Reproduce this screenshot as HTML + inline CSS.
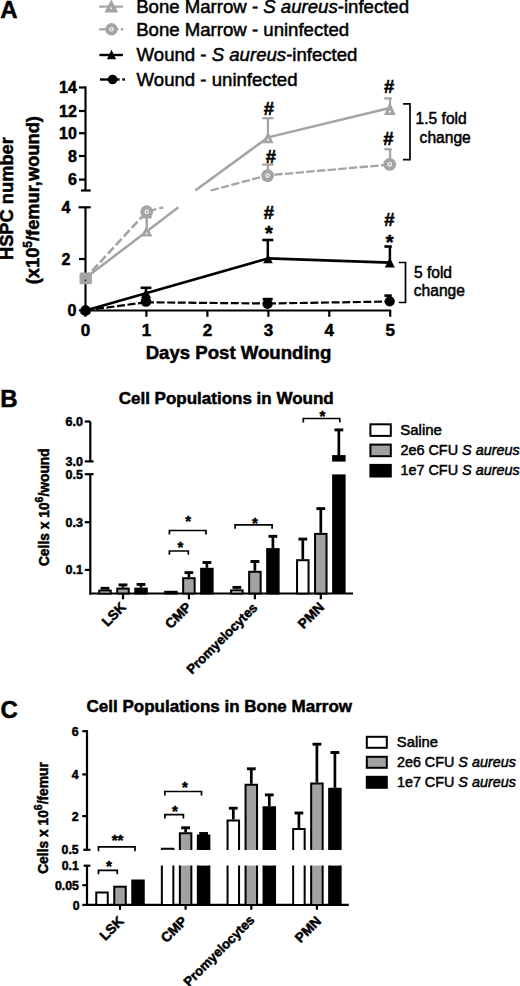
<!DOCTYPE html>
<html><head><meta charset="utf-8"><style>
html,body{margin:0;padding:0;background:#fff;}
body{width:520px;height:986px;overflow:hidden;}
svg{display:block;font-family:"Liberation Sans",sans-serif;}
</style></head><body>
<svg width="520" height="986" viewBox="0 0 520 986">
<rect width="520" height="986" fill="#fff"/>
<text x="0.3" y="18.2" font-size="24" font-weight="bold" stroke="#000" stroke-width="0.5" text-anchor="start" >A</text>
<line x1="99.2" y1="6.6" x2="123" y2="6.6" stroke="#a4a4a4" stroke-width="2.2" />
<polygon points="111.3,0.42 117.50,12.02 105.10,12.02" fill="#a4a4a4" stroke="#a4a4a4" stroke-width="1"/>
<circle cx="111.3" cy="8.19" r="0.9" fill="#fff"/>
<text x="136.2" y="13.1" font-size="18.6" stroke="#000" stroke-width="0.5" text-anchor="start" >Bone Marrow - <tspan font-style="italic">S aureus</tspan>-infected</text>
<line x1="99.2" y1="29.3" x2="118.5" y2="29.3" stroke="#a4a4a4" stroke-width="2.2" />
<line x1="120.8" y1="29.3" x2="123.2" y2="29.3" stroke="#a4a4a4" stroke-width="2.4" />
<circle cx="111.5" cy="29.3" r="6.2" fill="#a4a4a4"/>
<circle cx="111.5" cy="29.3" r="2.3" fill="#f4f4f4"/>
<circle cx="111.5" cy="29.3" r="1.1" fill="#a4a4a4"/>
<text x="136.2" y="35.6" font-size="18.6" stroke="#000" stroke-width="0.5" text-anchor="start" >Bone Marrow - uninfected</text>
<line x1="99.4" y1="55.0" x2="122.9" y2="55.0" stroke="#000" stroke-width="2.4" />
<polygon points="111.5,49.8 116.10,59.2 106.90,59.2" fill="#000"/>
<text x="136.6" y="61.2" font-size="18.6" stroke="#000" stroke-width="0.5" text-anchor="start" >Wound - <tspan font-style="italic">S aureus</tspan>-infected</text>
<line x1="100" y1="79.5" x2="119.6" y2="79.5" stroke="#000" stroke-width="2.4" />
<line x1="122.3" y1="79.5" x2="124.9" y2="79.5" stroke="#000" stroke-width="2.4" />
<circle cx="112.6" cy="79.5" r="4.8" fill="#000"/>
<text x="136.6" y="85.6" font-size="18.6" stroke="#000" stroke-width="0.5" text-anchor="start" >Wound - uninfected</text>
<line x1="85.5" y1="86.4" x2="85.5" y2="190.5" stroke="#000" stroke-width="2.2" />
<line x1="79" y1="87.5" x2="85.5" y2="87.5" stroke="#000" stroke-width="2.2" />
<line x1="79" y1="111.0" x2="85.5" y2="111.0" stroke="#000" stroke-width="2.2" />
<line x1="79" y1="133.2" x2="85.5" y2="133.2" stroke="#000" stroke-width="2.2" />
<line x1="79" y1="156.0" x2="85.5" y2="156.0" stroke="#000" stroke-width="2.2" />
<line x1="79" y1="179.6" x2="85.5" y2="179.6" stroke="#000" stroke-width="2.2" />
<line x1="81" y1="190.5" x2="90.7" y2="190.5" stroke="#000" stroke-width="2.2" />
<line x1="85.5" y1="207.3" x2="85.5" y2="311.6" stroke="#000" stroke-width="2.2" />
<line x1="78.5" y1="207.3" x2="90.7" y2="207.3" stroke="#000" stroke-width="2.2" />
<line x1="79" y1="259.0" x2="85.5" y2="259.0" stroke="#000" stroke-width="2.2" />
<line x1="79" y1="310.4" x2="85.5" y2="310.4" stroke="#000" stroke-width="2.2" />
<line x1="84.4" y1="310.5" x2="391.2" y2="310.5" stroke="#000" stroke-width="2.2" />
<line x1="85.4" y1="310.5" x2="85.4" y2="316.8" stroke="#000" stroke-width="2.2" />
<text x="85.4" y="335.7" font-size="17" font-weight="bold" stroke="#000" stroke-width="0.5" text-anchor="middle" >0</text>
<line x1="146.4" y1="310.5" x2="146.4" y2="316.8" stroke="#000" stroke-width="2.2" />
<text x="146.4" y="335.7" font-size="17" font-weight="bold" stroke="#000" stroke-width="0.5" text-anchor="middle" >1</text>
<line x1="207.4" y1="310.5" x2="207.4" y2="316.8" stroke="#000" stroke-width="2.2" />
<text x="207.4" y="335.7" font-size="17" font-weight="bold" stroke="#000" stroke-width="0.5" text-anchor="middle" >2</text>
<line x1="268.4" y1="310.5" x2="268.4" y2="316.8" stroke="#000" stroke-width="2.2" />
<text x="268.4" y="335.7" font-size="17" font-weight="bold" stroke="#000" stroke-width="0.5" text-anchor="middle" >3</text>
<line x1="329.3" y1="310.5" x2="329.3" y2="316.8" stroke="#000" stroke-width="2.2" />
<text x="329.3" y="335.7" font-size="17" font-weight="bold" stroke="#000" stroke-width="0.5" text-anchor="middle" >4</text>
<line x1="390.2" y1="310.5" x2="390.2" y2="316.8" stroke="#000" stroke-width="2.2" />
<text x="390.2" y="335.7" font-size="17" font-weight="bold" stroke="#000" stroke-width="0.5" text-anchor="middle" >5</text>
<text x="76.8" y="93.3" font-size="16" font-weight="bold" stroke="#000" stroke-width="0.5" text-anchor="end" >14</text>
<text x="76.8" y="116.8" font-size="16" font-weight="bold" stroke="#000" stroke-width="0.5" text-anchor="end" >12</text>
<text x="76.8" y="139.0" font-size="16" font-weight="bold" stroke="#000" stroke-width="0.5" text-anchor="end" >10</text>
<text x="76.8" y="161.8" font-size="16" font-weight="bold" stroke="#000" stroke-width="0.5" text-anchor="end" >8</text>
<text x="76.8" y="185.4" font-size="16" font-weight="bold" stroke="#000" stroke-width="0.5" text-anchor="end" >6</text>
<text x="70.5" y="213.4" font-size="16" font-weight="bold" stroke="#000" stroke-width="0.5" text-anchor="end" >4</text>
<text x="70.5" y="265.0" font-size="16" font-weight="bold" stroke="#000" stroke-width="0.5" text-anchor="end" >2</text>
<text x="76.3" y="316.0" font-size="16" font-weight="bold" stroke="#000" stroke-width="0.5" text-anchor="end" >0</text>
<text x="238.5" y="359.3" font-size="18.6" font-weight="bold" stroke="#000" stroke-width="0.5" text-anchor="middle" >Days Post Wounding</text>
<g transform="translate(13.2,198.6) rotate(-90)">
<text x="0" y="0" font-size="18.3" font-weight="bold" stroke="#000" stroke-width="0.5" text-anchor="middle" >HSPC number</text>
</g>
<g transform="translate(39.3,200.2) rotate(-90)">
<text x="0" y="0" font-size="18.3" font-weight="bold" stroke="#000" stroke-width="0.5" text-anchor="middle" >(x10<tspan font-size="12" dy="-7">5</tspan><tspan dy="7">/femur,wound)</tspan></text>
</g>
<line x1="85.5" y1="278" x2="146.7" y2="231.5" stroke="#a4a4a4" stroke-width="2.5" />
<line x1="146.7" y1="231.5" x2="178.4" y2="207.3" stroke="#a4a4a4" stroke-width="2.5" />
<line x1="195.3" y1="190.5" x2="268.0" y2="137.4" stroke="#a4a4a4" stroke-width="2.5" />
<line x1="268.0" y1="137.4" x2="389.7" y2="108.0" stroke="#a4a4a4" stroke-width="2.5" />
<line x1="85.5" y1="278" x2="146.7" y2="211.7" stroke="#a4a4a4" stroke-width="2.6" stroke-dasharray="8.5,3.2" stroke-dashoffset="2"/>
<line x1="146.7" y1="211.7" x2="163.4" y2="207.3" stroke="#a4a4a4" stroke-width="2.4" stroke-dasharray="9,3" stroke-dashoffset="-1"/>
<line x1="210.6" y1="190.5" x2="267.6" y2="175.3" stroke="#a4a4a4" stroke-width="2.3" stroke-dasharray="8.4,2.3"/>
<line x1="267.6" y1="175.3" x2="389.7" y2="164.6" stroke="#a4a4a4" stroke-width="2.3" stroke-dasharray="8.4,2.3" stroke-dashoffset="4"/>
<line x1="146.7" y1="231" x2="146.7" y2="217.2" stroke="#a4a4a4" stroke-width="2.4" />
<line x1="141.7" y1="217.2" x2="151.7" y2="217.2" stroke="#a4a4a4" stroke-width="2.4" />
<line x1="267.9" y1="136" x2="267.9" y2="118.2" stroke="#a4a4a4" stroke-width="2.2" />
<line x1="262.29999999999995" y1="118.2" x2="273.5" y2="118.2" stroke="#a4a4a4" stroke-width="2.2" />
<line x1="390.0" y1="106" x2="390.0" y2="98.4" stroke="#a4a4a4" stroke-width="2.2" />
<line x1="384.2" y1="98.4" x2="391.8" y2="98.4" stroke="#a4a4a4" stroke-width="2.2" />
<line x1="267.9" y1="175" x2="267.9" y2="164.6" stroke="#a4a4a4" stroke-width="2.2" />
<line x1="262.29999999999995" y1="164.6" x2="273.5" y2="164.6" stroke="#a4a4a4" stroke-width="2.2" />
<line x1="390.1" y1="165" x2="390.1" y2="149.3" stroke="#a4a4a4" stroke-width="2.2" />
<line x1="384.3" y1="149.3" x2="391.8" y2="149.3" stroke="#a4a4a4" stroke-width="2.2" />
<rect x="79.5" y="272.5" width="12.4" height="11.8" rx="1.5" fill="#a4a4a4"/>
<circle cx="85.4" cy="280.3" r="0.9" fill="#222"/>
<polygon points="146.6,225.6 152.40,236.5 140.80,236.5" fill="#a4a4a4"/>
<circle cx="146.6" cy="233.56" r="0.95" fill="#fff"/>
<polygon points="268.0,131.3 273.60,143.2 262.40,143.2" fill="#a4a4a4"/>
<circle cx="268.0" cy="139.99" r="0.95" fill="#fff"/>
<polygon points="389.8,102.0 395.70,115.0 383.90,115.0" fill="#a4a4a4"/>
<circle cx="389.8" cy="111.49" r="0.95" fill="#fff"/>
<circle cx="146.7" cy="211.7" r="6.4" fill="#a4a4a4"/>
<circle cx="146.7" cy="211.7" r="2.3" fill="#f4f4f4"/>
<circle cx="146.7" cy="211.7" r="1.1" fill="#a4a4a4"/>
<circle cx="267.6" cy="175.6" r="6.4" fill="#a4a4a4"/>
<circle cx="267.6" cy="175.6" r="2.3" fill="#f4f4f4"/>
<circle cx="267.6" cy="175.6" r="1.1" fill="#a4a4a4"/>
<circle cx="389.7" cy="164.4" r="6.4" fill="#a4a4a4"/>
<circle cx="389.7" cy="164.4" r="2.3" fill="#f4f4f4"/>
<circle cx="389.7" cy="164.4" r="1.1" fill="#a4a4a4"/>
<line x1="85.5" y1="310.4" x2="268.0" y2="258.4" stroke="#000" stroke-width="2.6" />
<line x1="268.0" y1="258.4" x2="389.7" y2="262.6" stroke="#000" stroke-width="2.6" />
<line x1="85.5" y1="310.4" x2="146" y2="302.3" stroke="#000" stroke-width="2.2" stroke-dasharray="8,2.6"/>
<line x1="146" y1="302.3" x2="268" y2="303.5" stroke="#000" stroke-width="2.2" stroke-dasharray="8,2.6"/>
<line x1="268" y1="303.5" x2="389.7" y2="301.5" stroke="#000" stroke-width="2.2" stroke-dasharray="8,2.6"/>
<line x1="146" y1="295" x2="146" y2="287.8" stroke="#000" stroke-width="2.4" />
<line x1="140.65" y1="287.8" x2="151.35" y2="287.8" stroke="#000" stroke-width="2.6" />
<line x1="267.8" y1="258" x2="267.8" y2="240.0" stroke="#000" stroke-width="2.5" />
<line x1="262.3" y1="240.0" x2="273.3" y2="240.0" stroke="#000" stroke-width="2.6" />
<line x1="389.9" y1="262" x2="389.9" y2="246.5" stroke="#000" stroke-width="2.5" />
<line x1="384.4" y1="246.5" x2="391.8" y2="246.5" stroke="#000" stroke-width="2.6" />
<line x1="267.7" y1="304" x2="267.7" y2="299.1" stroke="#000" stroke-width="2.4" />
<line x1="262.7" y1="299.1" x2="272.7" y2="299.1" stroke="#000" stroke-width="2.6" />
<line x1="389.9" y1="301" x2="389.9" y2="295.6" stroke="#000" stroke-width="2.4" />
<line x1="384.4" y1="295.6" x2="391.8" y2="295.6" stroke="#000" stroke-width="2.6" />
<circle cx="85.5" cy="310.4" r="5.3" fill="#000"/>
<polygon points="85.5,303.5 90.90,313.8 80.10,313.8" fill="#000"/>
<polygon points="146,288.5 151.00,298 141.00,298" fill="#000"/>
<circle cx="146" cy="301.5" r="5.3" fill="#000"/>
<polygon points="268.0,254.0 272.80,263.2 263.20,263.2" fill="#000"/>
<polygon points="389.8,257.5 394.80,267.6 384.80,267.6" fill="#000"/>
<circle cx="267.6" cy="303.9" r="5.1" fill="#000"/>
<circle cx="389.7" cy="301.3" r="5.1" fill="#000"/>
<text x="269.0" y="114.8" font-size="18.5" font-weight="bold" stroke="#000" stroke-width="0.5" text-anchor="middle" >#</text>
<text x="389.2" y="92.6" font-size="18.5" font-weight="bold" stroke="#000" stroke-width="0.5" text-anchor="middle" >#</text>
<text x="271.0" y="162.7" font-size="18.5" font-weight="bold" stroke="#000" stroke-width="0.5" text-anchor="middle" >#</text>
<text x="388.3" y="145.2" font-size="18.5" font-weight="bold" stroke="#000" stroke-width="0.5" text-anchor="middle" >#</text>
<text x="268.9" y="218.6" font-size="18.5" font-weight="bold" stroke="#000" stroke-width="0.5" text-anchor="middle" >#</text>
<text x="389.4" y="226.3" font-size="18.5" font-weight="bold" stroke="#000" stroke-width="0.5" text-anchor="middle" >#</text>
<text x="269.0" y="240.10000000000002" font-size="20" font-weight="bold" stroke="#000" stroke-width="0.5" text-anchor="middle" >*</text>
<text x="389.6" y="248.8" font-size="20" font-weight="bold" stroke="#000" stroke-width="0.5" text-anchor="middle" >*</text>
<polyline points="403,103.9 410,103.9 410,159.6 403,159.6" fill="none" stroke="#000" stroke-width="1.7"/>
<polyline points="398.8,262.5 405.5,262.5 405.5,302.5 398.8,302.5" fill="none" stroke="#000" stroke-width="1.7"/>
<text x="415.6" y="124.4" font-size="15.6" stroke="#000" stroke-width="0.5" text-anchor="start" >1.5 fold</text>
<text x="419.6" y="142.6" font-size="15.6" stroke="#000" stroke-width="0.5" text-anchor="start" >change</text>
<text x="413.9" y="278.4" font-size="15.6" stroke="#000" stroke-width="0.5" text-anchor="start" >5 fold</text>
<text x="413.8" y="296.0" font-size="15.6" stroke="#000" stroke-width="0.5" text-anchor="start" >change</text>
<text x="0.3" y="407.2" font-size="24" font-weight="bold" stroke="#000" stroke-width="0.5" text-anchor="start" >B</text>
<text x="118.7" y="403.7" font-size="17" font-weight="bold" stroke="#000" stroke-width="0.5" text-anchor="start" >Cell Populations in Wound</text>
<line x1="90.3" y1="421.5" x2="90.3" y2="461.4" stroke="#000" stroke-width="2.2" />
<line x1="84.8" y1="421.5" x2="90.3" y2="421.5" stroke="#000" stroke-width="2.2" />
<line x1="84.8" y1="461.4" x2="93.6" y2="461.4" stroke="#000" stroke-width="2.2" />
<line x1="90.3" y1="474.2" x2="90.3" y2="594.6" stroke="#000" stroke-width="2.2" />
<line x1="84.8" y1="474.2" x2="93.6" y2="474.2" stroke="#000" stroke-width="2.2" />
<line x1="84.8" y1="522.2" x2="90.3" y2="522.2" stroke="#000" stroke-width="2.2" />
<line x1="84.8" y1="569.9" x2="90.3" y2="569.9" stroke="#000" stroke-width="2.2" />
<line x1="89.2" y1="593.5" x2="353" y2="593.5" stroke="#000" stroke-width="2.2" />
<text x="82.9" y="425.9" font-size="12.5" font-weight="bold" stroke="#000" stroke-width="0.5" text-anchor="end" >6.0</text>
<text x="82.9" y="465.79999999999995" font-size="12.5" font-weight="bold" stroke="#000" stroke-width="0.5" text-anchor="end" >3.0</text>
<text x="82.9" y="478.59999999999997" font-size="12.5" font-weight="bold" stroke="#000" stroke-width="0.5" text-anchor="end" >0.5</text>
<text x="82.9" y="526.6" font-size="12.5" font-weight="bold" stroke="#000" stroke-width="0.5" text-anchor="end" >0.3</text>
<text x="82.9" y="574.3" font-size="12.5" font-weight="bold" stroke="#000" stroke-width="0.5" text-anchor="end" >0.1</text>
<g transform="translate(48.6,507.2) rotate(-90)">
<text x="0" y="0" font-size="13.8" font-weight="bold" stroke="#000" stroke-width="0.5" text-anchor="middle" >Cells x 10<tspan font-size="10.5" dy="-5.5">6</tspan><tspan dy="5.5">/wound</tspan></text>
</g>
<line x1="123.0" y1="593.5" x2="123.0" y2="599.3" stroke="#000" stroke-width="2.2" />
<line x1="188.9" y1="593.5" x2="188.9" y2="599.3" stroke="#000" stroke-width="2.2" />
<line x1="254.9" y1="593.5" x2="254.9" y2="599.3" stroke="#000" stroke-width="2.2" />
<line x1="320.8" y1="593.5" x2="320.8" y2="599.3" stroke="#000" stroke-width="2.2" />
<line x1="105.0" y1="589.6" x2="105.0" y2="589.3" stroke="#000" stroke-width="2.7" />
<line x1="100.6" y1="588.3" x2="109.4" y2="588.3" stroke="#000" stroke-width="2.9" />
<rect x="99.25" y="590.60" width="11.50" height="2.90" fill="#fff" stroke="#000" stroke-width="2.0"/>
<line x1="123.0" y1="587.6" x2="123.0" y2="585.9" stroke="#000" stroke-width="2.7" />
<line x1="118.6" y1="584.9" x2="127.4" y2="584.9" stroke="#000" stroke-width="2.9" />
<rect x="117.25" y="588.60" width="11.50" height="4.90" fill="#a2a2a2" stroke="#000" stroke-width="2.0"/>
<line x1="141.0" y1="587.6" x2="141.0" y2="585.4" stroke="#000" stroke-width="2.7" />
<line x1="136.6" y1="584.4" x2="145.4" y2="584.4" stroke="#000" stroke-width="2.9" />
<rect x="135.25" y="588.60" width="11.50" height="4.90" fill="#000" stroke="#000" stroke-width="2.0"/>
<rect x="165.15" y="591.80" width="11.50" height="1.70" fill="#fff" stroke="#000" stroke-width="2.0"/>
<line x1="188.9" y1="577.2" x2="188.9" y2="573.6" stroke="#000" stroke-width="2.7" />
<line x1="184.5" y1="572.6" x2="193.3" y2="572.6" stroke="#000" stroke-width="2.9" />
<rect x="183.15" y="578.20" width="11.50" height="15.30" fill="#a2a2a2" stroke="#000" stroke-width="2.0"/>
<line x1="206.9" y1="567.8" x2="206.9" y2="563.5" stroke="#000" stroke-width="2.7" />
<line x1="202.5" y1="562.5" x2="211.3" y2="562.5" stroke="#000" stroke-width="2.9" />
<rect x="201.15" y="568.80" width="11.50" height="24.70" fill="#000" stroke="#000" stroke-width="2.0"/>
<line x1="236.9" y1="589.4" x2="236.9" y2="588.4" stroke="#000" stroke-width="2.7" />
<line x1="232.5" y1="587.4" x2="241.3" y2="587.4" stroke="#000" stroke-width="2.9" />
<rect x="231.15" y="590.40" width="11.50" height="3.10" fill="#fff" stroke="#000" stroke-width="2.0"/>
<line x1="254.9" y1="570.8" x2="254.9" y2="562.5" stroke="#000" stroke-width="2.7" />
<line x1="250.5" y1="561.5" x2="259.3" y2="561.5" stroke="#000" stroke-width="2.9" />
<rect x="249.15" y="571.80" width="11.50" height="21.70" fill="#a2a2a2" stroke="#000" stroke-width="2.0"/>
<line x1="272.9" y1="548.1" x2="272.9" y2="537.3" stroke="#000" stroke-width="2.7" />
<line x1="268.5" y1="536.3" x2="277.29999999999995" y2="536.3" stroke="#000" stroke-width="2.9" />
<rect x="267.15" y="549.10" width="11.50" height="44.40" fill="#000" stroke="#000" stroke-width="2.0"/>
<line x1="302.8" y1="559.2" x2="302.8" y2="540.1" stroke="#000" stroke-width="2.7" />
<line x1="298.40000000000003" y1="539.1" x2="307.2" y2="539.1" stroke="#000" stroke-width="2.9" />
<rect x="297.05" y="560.20" width="11.50" height="33.30" fill="#fff" stroke="#000" stroke-width="2.0"/>
<line x1="320.8" y1="532.9" x2="320.8" y2="509.6" stroke="#000" stroke-width="2.7" />
<line x1="316.40000000000003" y1="508.6" x2="325.2" y2="508.6" stroke="#000" stroke-width="2.9" />
<rect x="315.05" y="533.90" width="11.50" height="59.60" fill="#a2a2a2" stroke="#000" stroke-width="2.0"/>
<rect x="332.1" y="474.4" width="13.5" height="119" fill="#000"/>
<rect x="332.1" y="455.1" width="13.5" height="6.5" fill="#000"/>
<line x1="338.85" y1="456" x2="338.85" y2="430.9" stroke="#000" stroke-width="2.7" />
<line x1="334.45000000000005" y1="429.9" x2="343.25" y2="429.9" stroke="#000" stroke-width="2.9" />
<polyline points="169.4,554.8 169.4,551.0 188.3,551.0 188.3,554.8" fill="none" stroke="#000" stroke-width="1.7"/>
<text x="180.5" y="552.275" font-size="15" font-weight="bold" stroke="#000" stroke-width="0.5" text-anchor="middle" >*</text>
<polyline points="169.4,534.5 169.4,530.5 206.0,530.5 206.0,534.5" fill="none" stroke="#000" stroke-width="1.7"/>
<text x="188.1" y="526.475" font-size="15" font-weight="bold" stroke="#000" stroke-width="0.5" text-anchor="middle" >*</text>
<polyline points="235.1,528.8 235.1,524.8 272.1,524.8 272.1,528.8" fill="none" stroke="#000" stroke-width="1.7"/>
<text x="254.9" y="527.975" font-size="15" font-weight="bold" stroke="#000" stroke-width="0.5" text-anchor="middle" >*</text>
<polyline points="303.3,422.5 303.3,418.5 339.8,418.5 339.8,422.5" fill="none" stroke="#000" stroke-width="1.7"/>
<text x="322.5" y="421.07500000000005" font-size="15" font-weight="bold" stroke="#000" stroke-width="0.5" text-anchor="middle" >*</text>
<g transform="translate(126.8,608.0) rotate(-45)">
<text x="0" y="0" font-size="13.7" font-weight="bold" stroke="#000" stroke-width="0.5" text-anchor="end" >LSK</text>
</g>
<g transform="translate(192.3,608.0) rotate(-45)">
<text x="0" y="0" font-size="13.7" font-weight="bold" stroke="#000" stroke-width="0.5" text-anchor="end" >CMP</text>
</g>
<g transform="translate(258.3,608.5) rotate(-45)">
<text x="0" y="0" font-size="13.2" font-weight="bold" stroke="#000" stroke-width="0.5" text-anchor="end" >Promyelocytes</text>
</g>
<g transform="translate(325.0,608.0) rotate(-45)">
<text x="0" y="0" font-size="13.7" font-weight="bold" stroke="#000" stroke-width="0.5" text-anchor="end" >PMN</text>
</g>
<rect x="370.4" y="424.3" width="20.4" height="11.6" fill="#fff" stroke="#000" stroke-width="2"/>
<rect x="370.4" y="444.6" width="20.4" height="11.6" fill="#a2a2a2" stroke="#000" stroke-width="2"/>
<rect x="370.4" y="464.9" width="20.4" height="11.6" fill="#000" stroke="#000" stroke-width="2"/>
<g transform="translate(400.2,434.8) scale(1.0,1)">
<text x="0" y="0" font-size="15" stroke="#000" stroke-width="0.5" text-anchor="start" >Saline</text>
</g>
<g transform="translate(400.4,454.9) scale(0.962,1)">
<text x="0" y="0" font-size="15" stroke="#000" stroke-width="0.5" text-anchor="start" >2e6 CFU <tspan font-style="italic">S aureus</tspan></text>
</g>
<g transform="translate(400.4,474.9) scale(0.962,1)">
<text x="0" y="0" font-size="15" stroke="#000" stroke-width="0.5" text-anchor="start" >1e7 CFU <tspan font-style="italic">S aureus</tspan></text>
</g>
<text x="0.5" y="717.8" font-size="24" font-weight="bold" stroke="#000" stroke-width="0.5" text-anchor="start" >C</text>
<text x="86.6" y="712.0" font-size="17" font-weight="bold" stroke="#000" stroke-width="0.5" text-anchor="start" >Cell Populations in Bone Marrow</text>
<line x1="87.0" y1="730.1" x2="87.0" y2="849.8" stroke="#000" stroke-width="2.2" />
<line x1="82.3" y1="731.2" x2="87.0" y2="731.2" stroke="#000" stroke-width="2.2" />
<line x1="82.3" y1="774.4" x2="87.0" y2="774.4" stroke="#000" stroke-width="2.2" />
<line x1="82.3" y1="816.1" x2="87.0" y2="816.1" stroke="#000" stroke-width="2.2" />
<line x1="83.3" y1="849.8" x2="90.4" y2="849.8" stroke="#000" stroke-width="2.2" />
<line x1="87.0" y1="865.7" x2="87.0" y2="906.0" stroke="#000" stroke-width="2.2" />
<line x1="83.6" y1="865.7" x2="90.4" y2="865.7" stroke="#000" stroke-width="2.2" />
<line x1="82.3" y1="885.2" x2="87.0" y2="885.2" stroke="#000" stroke-width="2.2" />
<line x1="85.9" y1="904.9" x2="348.8" y2="904.9" stroke="#000" stroke-width="2.2" />
<text x="78.7" y="735.6" font-size="12.3" font-weight="bold" stroke="#000" stroke-width="0.5" text-anchor="end" >6</text>
<text x="78.7" y="778.8" font-size="12.3" font-weight="bold" stroke="#000" stroke-width="0.5" text-anchor="end" >4</text>
<text x="78.7" y="820.5" font-size="12.3" font-weight="bold" stroke="#000" stroke-width="0.5" text-anchor="end" >2</text>
<text x="78.7" y="853.6999999999999" font-size="12.3" font-weight="bold" stroke="#000" stroke-width="0.5" text-anchor="end" >0.5</text>
<text x="78.9" y="870.4" font-size="12.3" font-weight="bold" stroke="#000" stroke-width="0.5" text-anchor="end" >0.1</text>
<text x="78.9" y="889.6" font-size="12.3" font-weight="bold" stroke="#000" stroke-width="0.5" text-anchor="end" >0.05</text>
<text x="79.6" y="910.1999999999999" font-size="12.3" font-weight="bold" stroke="#000" stroke-width="0.5" text-anchor="end" >0</text>
<line x1="82.3" y1="904.9" x2="87.0" y2="904.9" stroke="#000" stroke-width="2.2" />
<g transform="translate(47.6,818.0) rotate(-90)">
<text x="0" y="0" font-size="13.8" font-weight="bold" stroke="#000" stroke-width="0.5" text-anchor="middle" >Cells x 10<tspan font-size="10.5" dy="-5.5">6</tspan><tspan dy="5.5">/femur</tspan></text>
</g>
<line x1="120.0" y1="904.9" x2="120.0" y2="909.8" stroke="#000" stroke-width="2.2" />
<line x1="185.6" y1="904.9" x2="185.6" y2="909.8" stroke="#000" stroke-width="2.2" />
<line x1="251.3" y1="904.9" x2="251.3" y2="909.8" stroke="#000" stroke-width="2.2" />
<line x1="316.9" y1="904.9" x2="316.9" y2="909.8" stroke="#000" stroke-width="2.2" />
<rect x="96.25" y="892.50" width="11.50" height="12.40" fill="#fff" stroke="#000" stroke-width="2.0"/>
<rect x="114.25" y="886.70" width="11.50" height="18.20" fill="#a2a2a2" stroke="#000" stroke-width="2.0"/>
<rect x="132.25" y="880.50" width="11.50" height="24.40" fill="#000" stroke="#000" stroke-width="2.0"/>
<path d="M161.85,850.0 V848.70 H173.35 V850.0" fill="#fff" stroke="#000" stroke-width="2.0"/>
<path d="M161.85,865.6 V904.9 H173.35 V865.6" fill="#fff" stroke="#000" stroke-width="2.0"/>
<line x1="185.6" y1="832.3" x2="185.6" y2="828.8" stroke="#000" stroke-width="2.7" />
<line x1="181.2" y1="827.8" x2="190.0" y2="827.8" stroke="#000" stroke-width="2.9" />
<path d="M179.85,850.0 V833.30 H191.35 V850.0" fill="#a2a2a2" stroke="#000" stroke-width="2.0"/>
<path d="M179.85,865.6 V904.9 H191.35 V865.6" fill="#a2a2a2" stroke="#000" stroke-width="2.0"/>
<line x1="203.6" y1="834.6" x2="203.6" y2="834.5" stroke="#000" stroke-width="2.7" />
<line x1="199.2" y1="833.5" x2="208.0" y2="833.5" stroke="#000" stroke-width="2.9" />
<path d="M197.85,850.0 V835.60 H209.35 V850.0" fill="#000" stroke="#000" stroke-width="2.0"/>
<path d="M197.85,865.6 V904.9 H209.35 V865.6" fill="#000" stroke="#000" stroke-width="2.0"/>
<line x1="233.3" y1="819.4" x2="233.3" y2="809.2" stroke="#000" stroke-width="2.7" />
<line x1="228.9" y1="808.2" x2="237.70000000000002" y2="808.2" stroke="#000" stroke-width="2.9" />
<path d="M227.55,850.0 V820.40 H239.05 V850.0" fill="#fff" stroke="#000" stroke-width="2.0"/>
<path d="M227.55,865.6 V904.9 H239.05 V865.6" fill="#fff" stroke="#000" stroke-width="2.0"/>
<line x1="251.3" y1="783.8" x2="251.3" y2="769.8" stroke="#000" stroke-width="2.7" />
<line x1="246.9" y1="768.8" x2="255.70000000000002" y2="768.8" stroke="#000" stroke-width="2.9" />
<path d="M245.55,850.0 V784.80 H257.05 V850.0" fill="#a2a2a2" stroke="#000" stroke-width="2.0"/>
<path d="M245.55,865.6 V904.9 H257.05 V865.6" fill="#a2a2a2" stroke="#000" stroke-width="2.0"/>
<line x1="269.3" y1="806.3" x2="269.3" y2="795.9" stroke="#000" stroke-width="2.7" />
<line x1="264.90000000000003" y1="794.9" x2="273.7" y2="794.9" stroke="#000" stroke-width="2.9" />
<path d="M263.55,850.0 V807.30 H275.05 V850.0" fill="#000" stroke="#000" stroke-width="2.0"/>
<path d="M263.55,865.6 V904.9 H275.05 V865.6" fill="#000" stroke="#000" stroke-width="2.0"/>
<line x1="298.9" y1="827.9" x2="298.9" y2="814.0" stroke="#000" stroke-width="2.7" />
<line x1="294.5" y1="813.0" x2="303.29999999999995" y2="813.0" stroke="#000" stroke-width="2.9" />
<path d="M293.15,850.0 V828.90 H304.65 V850.0" fill="#fff" stroke="#000" stroke-width="2.0"/>
<path d="M293.15,865.6 V904.9 H304.65 V865.6" fill="#fff" stroke="#000" stroke-width="2.0"/>
<line x1="316.9" y1="782.6" x2="316.9" y2="745.2" stroke="#000" stroke-width="2.7" />
<line x1="312.5" y1="744.2" x2="321.29999999999995" y2="744.2" stroke="#000" stroke-width="2.9" />
<path d="M311.15,850.0 V783.60 H322.65 V850.0" fill="#a2a2a2" stroke="#000" stroke-width="2.0"/>
<path d="M311.15,865.6 V904.9 H322.65 V865.6" fill="#a2a2a2" stroke="#000" stroke-width="2.0"/>
<line x1="334.9" y1="787.8" x2="334.9" y2="753.5" stroke="#000" stroke-width="2.7" />
<line x1="330.5" y1="752.5" x2="339.29999999999995" y2="752.5" stroke="#000" stroke-width="2.9" />
<path d="M329.15,850.0 V788.80 H340.65 V850.0" fill="#000" stroke="#000" stroke-width="2.0"/>
<path d="M329.15,865.6 V904.9 H340.65 V865.6" fill="#000" stroke="#000" stroke-width="2.0"/>
<polyline points="98.5,851.1999999999999 98.5,846.9 135.0,846.9 135.0,851.1999999999999" fill="none" stroke="#000" stroke-width="1.7"/>
<text x="117.5" y="845.4" font-size="15" font-weight="bold" stroke="#000" stroke-width="0.5" text-anchor="middle" >**</text>
<polyline points="98.5,874.3 98.5,870.3 117.3,870.3 117.3,874.3" fill="none" stroke="#000" stroke-width="1.7"/>
<text x="108.8" y="871.375" font-size="15" font-weight="bold" stroke="#000" stroke-width="0.5" text-anchor="middle" >*</text>
<polyline points="164.9,795.4 164.9,791.5 201.5,791.5 201.5,795.4" fill="none" stroke="#000" stroke-width="1.7"/>
<text x="185.0" y="791.975" font-size="15" font-weight="bold" stroke="#000" stroke-width="0.5" text-anchor="middle" >*</text>
<polyline points="164.9,818.5 164.9,814.6 183.4,814.6 183.4,818.5" fill="none" stroke="#000" stroke-width="1.7"/>
<text x="174.9" y="816.1750000000001" font-size="15" font-weight="bold" stroke="#000" stroke-width="0.5" text-anchor="middle" >*</text>
<g transform="translate(124.5,922.0) rotate(-45)">
<text x="0" y="0" font-size="13.7" font-weight="bold" stroke="#000" stroke-width="0.5" text-anchor="end" >LSK</text>
</g>
<g transform="translate(188.0,922.0) rotate(-45)">
<text x="0" y="0" font-size="13.7" font-weight="bold" stroke="#000" stroke-width="0.5" text-anchor="end" >CMP</text>
</g>
<g transform="translate(255.3,920.8) rotate(-45)">
<text x="0" y="0" font-size="13.2" font-weight="bold" stroke="#000" stroke-width="0.5" text-anchor="end" >Promyelocytes</text>
</g>
<g transform="translate(322.0,922.0) rotate(-45)">
<text x="0" y="0" font-size="13.7" font-weight="bold" stroke="#000" stroke-width="0.5" text-anchor="end" >PMN</text>
</g>
<rect x="366.8" y="736.8" width="20" height="11" fill="#fff" stroke="#000" stroke-width="2"/>
<rect x="366.8" y="756.8" width="20" height="11" fill="#a2a2a2" stroke="#000" stroke-width="2"/>
<rect x="366.8" y="776.8" width="20" height="11" fill="#000" stroke="#000" stroke-width="2"/>
<g transform="translate(396.8,746.5) scale(1.0,1)">
<text x="0" y="0" font-size="14.8" stroke="#000" stroke-width="0.5" text-anchor="start" >Saline</text>
</g>
<g transform="translate(396.9,766.8) scale(0.971,1)">
<text x="0" y="0" font-size="14.8" stroke="#000" stroke-width="0.5" text-anchor="start" >2e6 CFU <tspan font-style="italic">S aureus</tspan></text>
</g>
<g transform="translate(396.9,786.6) scale(0.971,1)">
<text x="0" y="0" font-size="14.8" stroke="#000" stroke-width="0.5" text-anchor="start" >1e7 CFU <tspan font-style="italic">S aureus</tspan></text>
</g>
</svg>
</body></html>
